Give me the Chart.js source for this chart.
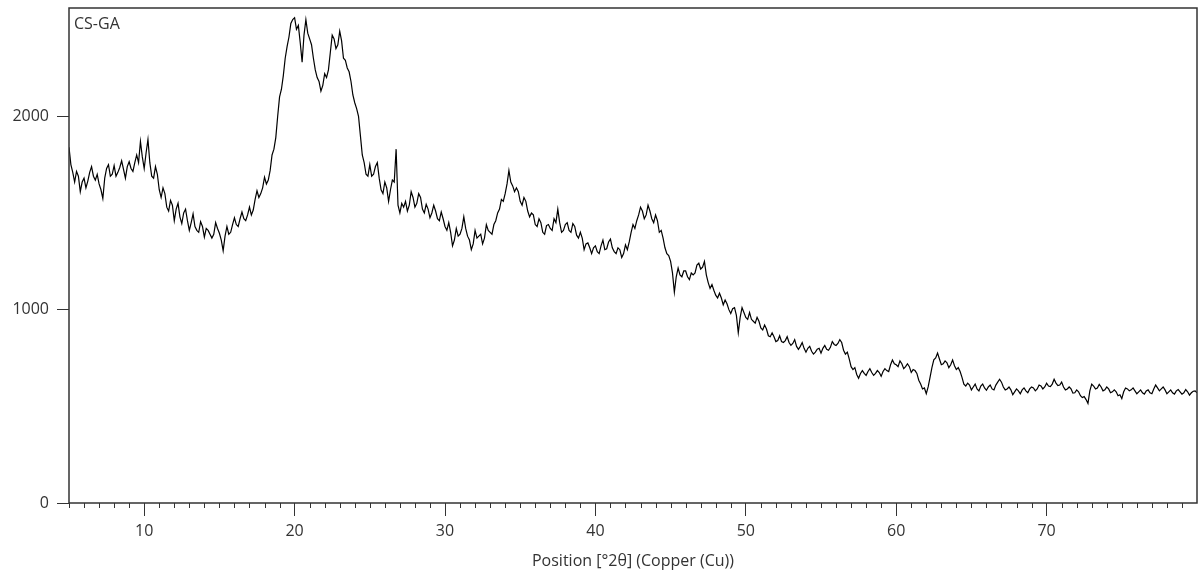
<!DOCTYPE html>
<html>
<head>
<meta charset="utf-8">
<script src="https://cdn.jsdelivr.net/npm/chart.js@4.4.1/dist/chart.umd.min.js"></script>
<style>
  html, body { margin: 0; padding: 0; background: #fff; }
  #wrap { width: 1200px; height: 573px; }
</style>
</head>
<body>
<div id="wrap"><canvas id="xrd"></canvas></div>
<script>
// sample + axis text
const sampleName = 'CS-GA';
const xTitle = 'Position [°2θ] (Copper (Cu))';

// scan: 5 to 80 °2θ, one reading every 0.125° (one row = 5°)
const twoThetaStart = 5;
const twoThetaStep = 0.125;
const counts = [
    1840,1750,1710,1660,1715,1690,1610,1660,1680,1630,1665,1710,1740,1690,1670,1700,1650,1620,1575,1680,1730,1750,1690,1700,1745,1690,1710,1735,1770,1725,1680,1740,1765,1730,1715,1760,1800,1760,1870,1790,
    1730,1810,1880,1760,1690,1680,1740,1700,1620,1580,1630,1600,1530,1510,1565,1540,1460,1520,1550,1480,1445,1500,1520,1460,1410,1450,1495,1430,1410,1400,1455,1430,1375,1420,1410,1390,1370,1390,1450,1420,
    1395,1360,1305,1380,1430,1390,1400,1440,1475,1440,1430,1470,1505,1470,1460,1490,1530,1490,1515,1570,1615,1580,1600,1630,1685,1650,1670,1720,1800,1830,1890,2000,2100,2140,2210,2300,2360,2410,2480,2500,
    2510,2450,2470,2380,2280,2420,2500,2430,2400,2370,2300,2240,2200,2180,2130,2160,2220,2200,2240,2330,2420,2400,2350,2370,2440,2390,2300,2290,2250,2230,2180,2110,2070,2040,2000,1900,1800,1760,1700,1690,
    1750,1690,1700,1740,1760,1680,1620,1600,1660,1630,1560,1620,1670,1660,1830,1540,1500,1550,1530,1560,1510,1540,1610,1580,1530,1550,1600,1580,1520,1500,1545,1520,1475,1500,1540,1510,1470,1460,1505,1470,
    1430,1410,1450,1400,1330,1360,1420,1380,1390,1420,1480,1420,1380,1360,1310,1340,1410,1370,1380,1390,1340,1370,1440,1410,1400,1390,1440,1460,1500,1520,1570,1560,1600,1650,1720,1660,1640,1610,1630,1610,
    1560,1540,1580,1560,1510,1480,1500,1490,1440,1430,1470,1450,1400,1390,1435,1440,1420,1410,1470,1450,1520,1450,1400,1410,1440,1450,1410,1400,1445,1430,1385,1370,1400,1370,1310,1340,1345,1320,1290,1320,
    1330,1300,1290,1330,1360,1310,1315,1350,1365,1320,1300,1290,1320,1310,1270,1290,1335,1310,1350,1400,1440,1420,1460,1490,1530,1510,1470,1490,1540,1510,1470,1450,1490,1460,1400,1410,1370,1320,1290,1280,
    1250,1190,1090,1170,1215,1180,1170,1200,1200,1170,1155,1190,1180,1190,1230,1240,1210,1220,1250,1180,1140,1110,1130,1100,1075,1060,1085,1060,1025,1050,1030,1000,980,1005,1010,970,880,960,1010,985,
    960,950,985,950,940,930,960,940,905,895,920,900,865,860,880,860,835,840,865,835,830,840,860,830,815,825,845,810,795,810,830,800,780,800,810,785,770,780,795,800,
    775,800,815,795,790,805,835,820,815,825,845,830,790,770,780,745,705,690,700,665,645,670,685,670,660,680,695,675,660,670,685,675,655,680,695,685,680,715,740,720,
    715,705,735,720,695,705,720,705,675,690,685,670,635,615,590,595,565,600,650,700,740,750,775,745,715,720,735,725,700,715,740,710,690,700,680,650,615,605,620,610,
    585,600,615,590,580,605,615,595,583,600,610,590,585,610,625,640,625,600,585,590,600,585,560,575,590,580,565,585,595,580,570,590,600,595,580,590,610,605,590,600,
    620,605,602,615,640,620,607,610,625,600,585,590,600,590,568,570,585,575,555,545,550,535,515,580,615,605,590,595,613,600,580,585,600,590,570,575,585,575,555,560,
    540,575,595,590,580,585,595,580,565,575,585,570,563,580,585,570,565,590,610,595,580,590,600,585,565,575,585,570,563,580,587,575,563,570,587,575,558,570,578,580,
    570
];

// tick labels
const xTicks = [10, 20, 30, 40, 50, 60, 70];
const yTicks = [0, 1000, 2000];

const textColor = '#333';
const fontFamily = '"Open Sans", "Noto Sans", sans-serif';

const points = counts.map((c, i) => ({ x: twoThetaStart + i * twoThetaStep, y: c }));

// frame, minor ticks and sample label
const extras = {
    id: 'extras',
    afterDraw(chart) {
        const { ctx, chartArea: a, scales: { x } } = chart;
        ctx.save();
        ctx.strokeStyle = textColor;
        ctx.lineWidth = 1;
        for (let v = Math.ceil(x.min); v <= x.max; v++) {
            if (v % 10 === 0) continue;
            const px = Math.round(x.getPixelForValue(v)) + 0.5;
            ctx.beginPath();
            ctx.moveTo(px, a.bottom);
            ctx.lineTo(px, a.bottom + 5);
            ctx.stroke();
        }
        ctx.lineWidth = 1.5;
        ctx.strokeRect(a.left, a.top, a.right - a.left, a.bottom - a.top);
        ctx.fillStyle = textColor;
        ctx.font = '16px ' + fontFamily;
        ctx.textBaseline = 'middle';
        ctx.fillText(sampleName, a.left + 5, a.top + 16);
        ctx.restore();
    }
};

new Chart(document.getElementById('xrd'), {
    type: 'line',
    data: {
        datasets: [{
            data: points,
            borderColor: '#000',
            borderWidth: 1.2,
            pointRadius: 0,
            tension: 0
        }]
    },
    options: {
        responsive: true,
        maintainAspectRatio: false,
        animation: false,
        layout: { padding: { top: 8, right: 3, left: 0, bottom: 0 } },
        plugins: {
            legend: { display: false },
            tooltip: { enabled: false }
        },
        scales: {
            x: {
                type: 'linear',
                min: 5,
                max: 80,
                afterBuildTicks: s => { s.ticks = xTicks.map(v => ({ value: v })); },
                afterFit: s => { s.height = 70; s.paddingLeft = 0; s.paddingRight = 0; },
                grid: { drawOnChartArea: false, tickLength: 13, tickColor: textColor },
                border: { display: false },
                ticks: { color: textColor, font: { family: fontFamily, size: 16 }, padding: 6, maxRotation: 0, autoSkip: false },
                title: {
                    display: true,
                    text: xTitle,
                    color: textColor,
                    font: { family: fontFamily, size: 16 },
                    padding: { top: 0, bottom: 2 }
                }
            },
            y: {
                min: 0,
                max: 2560,
                afterBuildTicks: s => { s.ticks = yTicks.map(v => ({ value: v })); },
                afterFit: s => { s.width = 69; s.paddingTop = 0; s.paddingBottom = 0; },
                grid: { drawOnChartArea: false, tickLength: 12, tickColor: textColor },
                border: { display: false },
                ticks: {
                    color: textColor,
                    font: { family: fontFamily, size: 16 },
                    padding: 8,
                    callback: v => String(v)
                }
            }
        }
    },
    plugins: [extras]
});
</script>
</body>
</html>
